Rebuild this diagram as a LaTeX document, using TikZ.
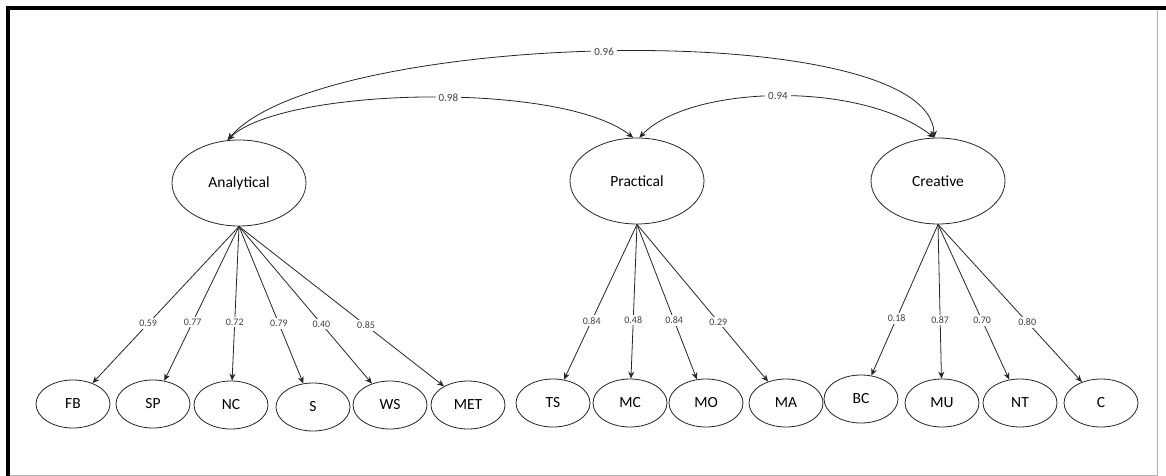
\documentclass[tikz,border=0pt]{standalone}
\usepackage{fontspec}
\setmainfont{Carlito}
\usetikzlibrary{shapes.geometric,arrows.meta}
\begin{document}
\begin{tikzpicture}[x=1pt,y=-1pt,
  latent/.style={draw=black!85,line width=0.8pt,ellipse,minimum width=134pt,minimum height=86pt,inner sep=0pt,font=\fontsize{15.5}{18}\selectfont},
  ind/.style={draw=black!85,line width=0.8pt,ellipse,minimum width=74pt,minimum height=48pt,inner sep=0pt,font=\fontsize{15.5}{18}\selectfont},
  lbl/.style={fill=white,inner sep=2pt,text=black!75,font=\fontsize{10}{12}\selectfont},
  clbl/.style={fill=white,inner sep=3pt,text=black!75,font=\fontsize{11}{13}\selectfont},
  load/.style={draw=black!85,line width=0.8pt,-{Stealth[length=7pt,width=6pt]}},
  cov/.style={draw=black!85,line width=0.8pt,{Stealth[length=7pt,width=6pt]}-{Stealth[length=7pt,width=6pt]}}
]
\useasboundingbox (0,0) rectangle (1166,476);
\fill[white] (0,0) rectangle (1166,476);
% frame
\draw[black!30,line width=1pt] (1157,10) -- (1157,475) -- (8,475);
\draw[black,line width=3.5pt] (8,476) -- (8,8) -- (1166,8);

% latent variables
\node[latent] (A) at (239,183) {Analytical};
\node[latent] (P) at (637,181) {Practical};
\node[latent] (Cre) at (938,181) {Creative};

% indicators
\node[ind] (FB)  at (73,404)  {FB};
\node[ind] (SP)  at (153,404) {SP};
\node[ind] (NC)  at (231,405) {NC};
\node[ind] (S)   at (313,407) {S};
\node[ind] (WS)  at (390,405) {WS};
\node[ind] (MET) at (468,405) {MET};
\node[ind] (TS)  at (553,403) {TS};
\node[ind] (MC)  at (630,403) {MC};
\node[ind] (MO)  at (706,403) {MO};
\node[ind] (MA)  at (786,403) {MA};
\node[ind] (BC)  at (861,399) {BC};
\node[ind] (MU)  at (942,403) {MU};
\node[ind] (NT)  at (1020,403) {NT};
\node[ind] (C)   at (1101,403) {C};

% covariances
\draw[cov] (A.105) .. controls (320,30) and (930,15) .. node[clbl,pos=0.49]{0.96} (Cre.95);
\draw[cov] (A.105) .. controls (280,88) and (560,80) .. node[clbl,pos=0.55]{0.98} (P.95);
\draw[cov] (P.87) .. controls (690,85) and (860,80) .. node[clbl,pos=0.5]{0.94} (Cre.95);

% loadings
\draw[load] (A.south) -- node[lbl,pos=0.62]{0.59} (FB);
\draw[load] (A.south) -- node[lbl,pos=0.62]{0.77} (SP);
\draw[load] (A.south) -- node[lbl,pos=0.62]{0.72} (NC);
\draw[load] (A.south) -- node[lbl,pos=0.62]{0.79} (S);
\draw[load] (A.south) -- node[lbl,pos=0.62]{0.40} (WS);
\draw[load] (A.south) -- node[lbl,pos=0.62]{0.85} (MET);

\draw[load] (P.south) -- node[lbl,pos=0.62]{0.84} (TS);
\draw[load] (P.south) -- node[lbl,pos=0.62]{0.48} (MC);
\draw[load] (P.south) -- node[lbl,pos=0.62]{0.84} (MO);
\draw[load] (P.south) -- node[lbl,pos=0.62]{0.29} (MA);

\draw[load] (Cre.south) -- node[lbl,pos=0.62]{0.18} (BC);
\draw[load] (Cre.south) -- node[lbl,pos=0.62]{0.87} (MU);
\draw[load] (Cre.south) -- node[lbl,pos=0.62]{0.70} (NT);
\draw[load] (Cre.south) -- node[lbl,pos=0.62]{0.80} (C);
\end{tikzpicture}
\end{document}
